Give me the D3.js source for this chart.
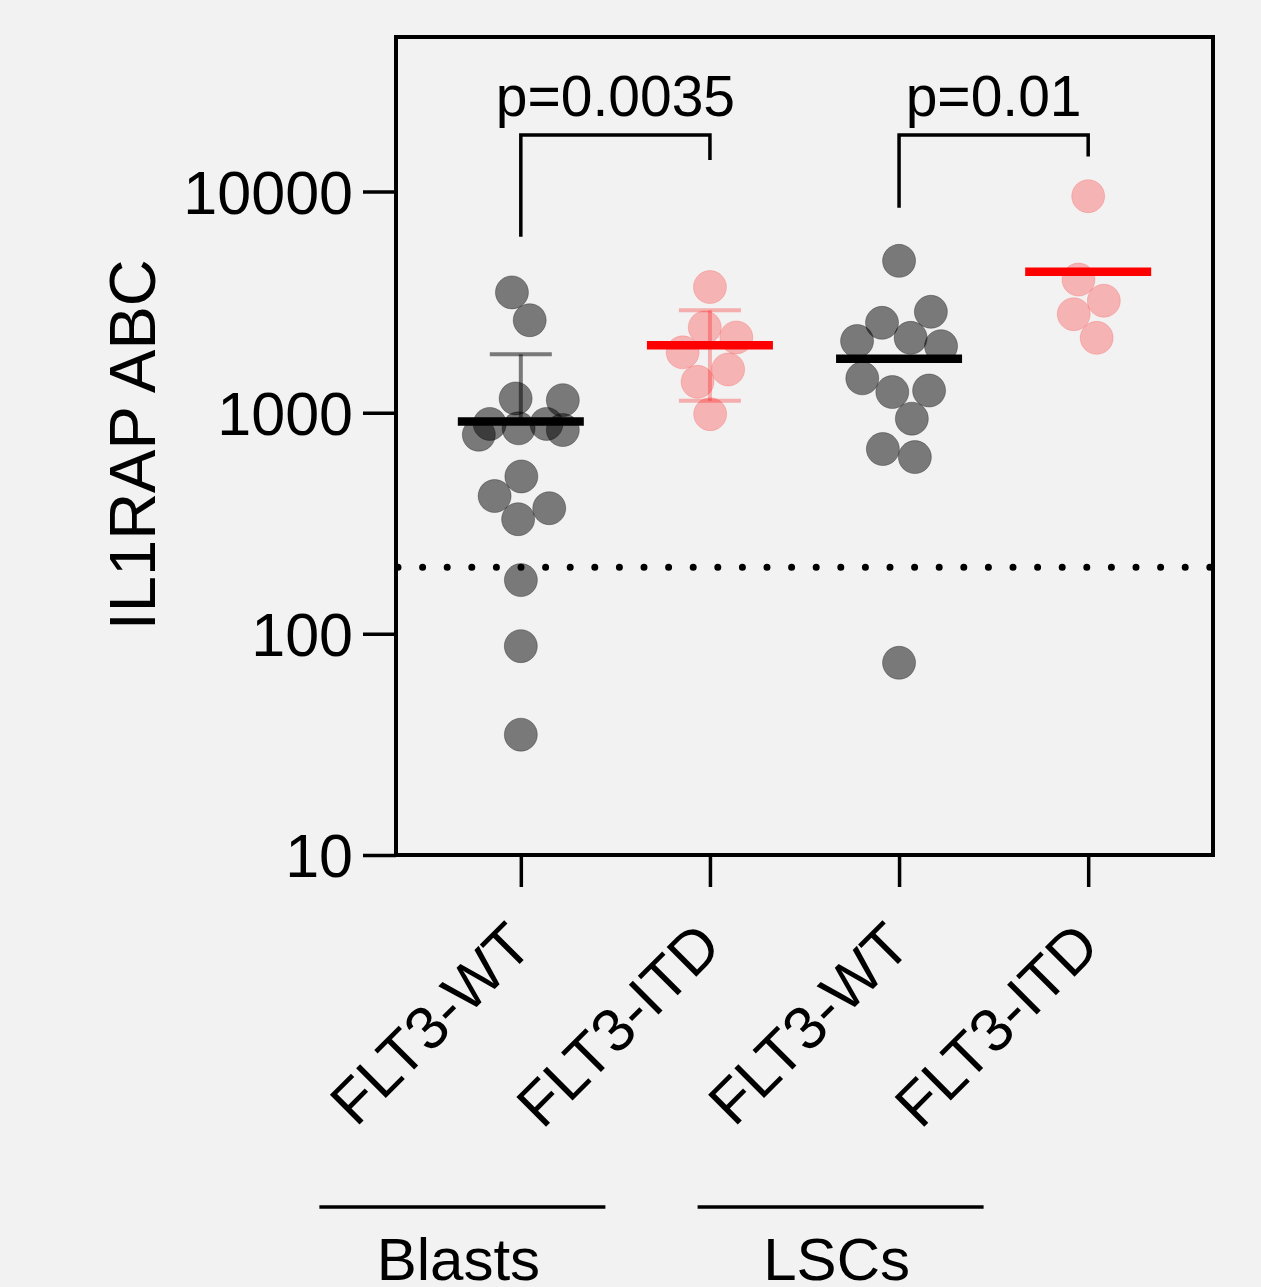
<!DOCTYPE html>
<html>
<head>
<meta charset="utf-8">
<script src="https://d3js.org/d3.v7.min.js"></script>
<style>
  body { margin: 0; background: #f2f2f2; }
  svg text { font-family: "Liberation Sans", Arial, Helvetica, sans-serif; fill: #000; }
</style>
</head>
<body>
<div id="chart"></div>
<script>
/*global d3*/

// groups on the x axis
const groupIds = ["blastsWT", "blastsITD", "lscWT", "lscITD"];
const groupLabels = ["FLT3-WT", "FLT3-ITD", "FLT3-WT", "FLT3-ITD"];

// IL1RAP ABC per patient
const blastsWT = [3500, 2620, 1160, 1140, 890, 850, 890, 835, 795, 515, 420, 370, 330, 175, 88, 35];
const blastsITD = [3700, 2430, 2190, 1875, 1570, 1380, 985];
const lscWT = [4860, 2860, 2550, 2180, 2110, 2000, 1430, 1240, 1260, 940, 685, 630, 74];
const lscITD = [9530, 4000, 3210, 2790, 2180];

// which groups get a mean +/- SD bar
const showSD = [true, true, false, false];

// comparisons drawn on top
const comparisons = [
  {from: "blastsWT", to: "blastsITD", label: "p=0.0035", leftEnd: 6250, rightEnd: 13900},
  {from: "lscWT", to: "lscITD", label: "p=0.01", leftEnd: 8450, rightEnd: 14400}
];

// cell-type groups under the axis
const cellTypes = [
  {name: "Blasts", ids: ["blastsWT", "blastsITD"]},
  {name: "LSCs", ids: ["lscWT", "lscITD"]}
];

const yTicks = [10, 100, 1000, 10000];
const threshold = 200;

const seriesValues = [blastsWT, blastsITD, lscWT, lscITD];
const colors = ["#000000", "#ff0000", "#000000", "#ff0000"];
const dotOpacity = [0.5, 0.26, 0.5, 0.26];

const width = 1261, height = 1287;
const margin = {top: 37, right: 48, bottom: 432, left: 396};

const svg = d3.select("#chart")
  .append("svg")
    .attr("width", width)
    .attr("height", height);

svg.append("rect")
  .attr("width", width).attr("height", height)
  .attr("fill", "#f2f2f2");

const x = d3.scalePoint()
  .domain(groupIds)
  .range([margin.left, width - margin.right])
  .padding(0.66);

const y = d3.scaleLog()
  .domain([10, 50000])
  .range([height - margin.bottom, margin.top]);

const r = 16.5;
const maxSpread = 42;

// threshold dotted line
svg.append("line")
  .attr("x1", margin.left + 2).attr("x2", width - margin.right)
  .attr("y1", y(threshold)).attr("y2", y(threshold))
  .attr("stroke", "#000")
  .attr("stroke-width", 7)
  .attr("stroke-linecap", "round")
  .attr("stroke-dasharray", "0 24.6");

// build nodes and spread them like a scatter dot plot
const nodes = [];
seriesValues.forEach(function(vals, i) {
  vals.forEach(function(v) {
    nodes.push({g: groupIds[i], gi: i, v: v, x: x(groupIds[i]), y: y(v), fy: y(v)});
  });
});

const simulation = d3.forceSimulation(nodes)
  .force("x", d3.forceX(d => x(d.g)).strength(0.05))
  .force("collide", d3.forceCollide(r).iterations(2))
  .stop();
for (let i = 0; i < 400; i++) {
  simulation.tick();
  // keep every column inside its lane, points may overlap at the edges
  nodes.forEach(function(d) {
    const cx = x(d.g);
    d.x = Math.max(cx - maxSpread, Math.min(cx + maxSpread, d.x));
  });
}

// error bars (mean +/- SD)
seriesValues.forEach(function(vals, i) {
  if (!showSD[i]) return;
  const m = d3.mean(vals), sd = d3.deviation(vals);
  const cx = x(groupIds[i]);
  const g = svg.append("g")
    .attr("stroke", colors[i])
    .attr("stroke-opacity", i % 2 ? 0.28 : 0.5)
    .attr("stroke-width", 4);
  const lo = m - sd > 0 ? m - sd : m;
  g.append("line")
    .attr("x1", cx).attr("x2", cx)
    .attr("y1", y(lo)).attr("y2", y(m + sd));
  g.append("line")
    .attr("x1", cx - 31).attr("x2", cx + 31)
    .attr("y1", y(m + sd)).attr("y2", y(m + sd));
  if (m - sd > 0) {
    g.append("line")
      .attr("x1", cx - 31).attr("x2", cx + 31)
      .attr("y1", y(m - sd)).attr("y2", y(m - sd));
  }
});

// dots
svg.append("g")
  .selectAll("circle")
  .data(nodes)
  .join("circle")
    .attr("cx", d => d.x)
    .attr("cy", d => d.y)
    .attr("r", r)
    .attr("fill", d => colors[d.gi])
    .attr("fill-opacity", d => dotOpacity[d.gi])
    .attr("stroke", d => colors[d.gi])
    .attr("stroke-opacity", d => dotOpacity[d.gi] * 0.6)
    .attr("stroke-width", 1);

// mean lines
svg.append("g")
  .selectAll("line")
  .data(seriesValues)
  .join("line")
    .attr("x1", (d, i) => x(groupIds[i]) - 63)
    .attr("x2", (d, i) => x(groupIds[i]) + 63)
    .attr("y1", d => y(d3.mean(d)))
    .attr("y2", d => y(d3.mean(d)))
    .attr("stroke", (d, i) => colors[i])
    .attr("stroke-width", 8.5);

// frame
svg.append("rect")
  .attr("x", margin.left).attr("y", margin.top)
  .attr("width", width - margin.right - margin.left)
  .attr("height", height - margin.bottom - margin.top)
  .attr("fill", "none")
  .attr("stroke", "#000")
  .attr("stroke-width", 4);

// y axis
const yAxis = svg.append("g")
  .attr("transform", `translate(${margin.left},0)`)
  .call(d3.axisLeft(y).tickValues(yTicks).tickFormat(d3.format("d")).tickSize(33).tickPadding(10));
yAxis.select(".domain").remove();
yAxis.selectAll(".tick line").attr("stroke-width", 3.5);
yAxis.selectAll(".tick text")
  .attr("font-size", 61)
  .attr("dy", "0.36em");

svg.append("text")
  .attr("transform", `translate(155,${y(1000) + 32}) rotate(-90)`)
  .attr("text-anchor", "middle")
  .attr("font-size", 65)
  .text("IL1RAP ABC");

// x axis
const xAxis = svg.append("g")
  .attr("transform", `translate(0,${height - margin.bottom})`)
  .call(d3.axisBottom(x).tickSize(32).tickFormat(""));
xAxis.select(".domain").remove();
xAxis.selectAll(".tick line").attr("stroke-width", 3.5);

svg.append("g")
  .selectAll("text")
  .data(groupIds)
  .join("text")
    .attr("transform", d => `translate(${x(d) + 14},${height - margin.bottom + 94}) rotate(-45)`)
    .attr("text-anchor", "end")
    .attr("font-size", 61)
    .text((d, i) => groupLabels[i]);

// comparison brackets
comparisons.forEach(function(c) {
  const x1 = x(c.from), x2 = x(c.to), top = 135;
  svg.append("path")
    .attr("d", `M${x1},${y(c.leftEnd)}V${top}H${x2}V${y(c.rightEnd)}`)
    .attr("fill", "none")
    .attr("stroke", "#000")
    .attr("stroke-width", 3.5);
  svg.append("text")
    .attr("x", (x1 + x2) / 2)
    .attr("y", 116)
    .attr("text-anchor", "middle")
    .attr("font-size", 57)
    .text(c.label);
});

// cell type labels
cellTypes.forEach(function(ct) {
  const mid = (x(ct.ids[0]) + x(ct.ids[1])) / 2 - 153;
  svg.append("line")
    .attr("x1", mid - 143).attr("x2", mid + 143)
    .attr("y1", 1207).attr("y2", 1207)
    .attr("stroke", "#000")
    .attr("stroke-width", 3.5);
  svg.append("text")
    .attr("x", mid - 4)
    .attr("y", 1280)
    .attr("text-anchor", "middle")
    .attr("font-size", 60)
    .text(ct.name);
});
</script>
</body>
</html>
